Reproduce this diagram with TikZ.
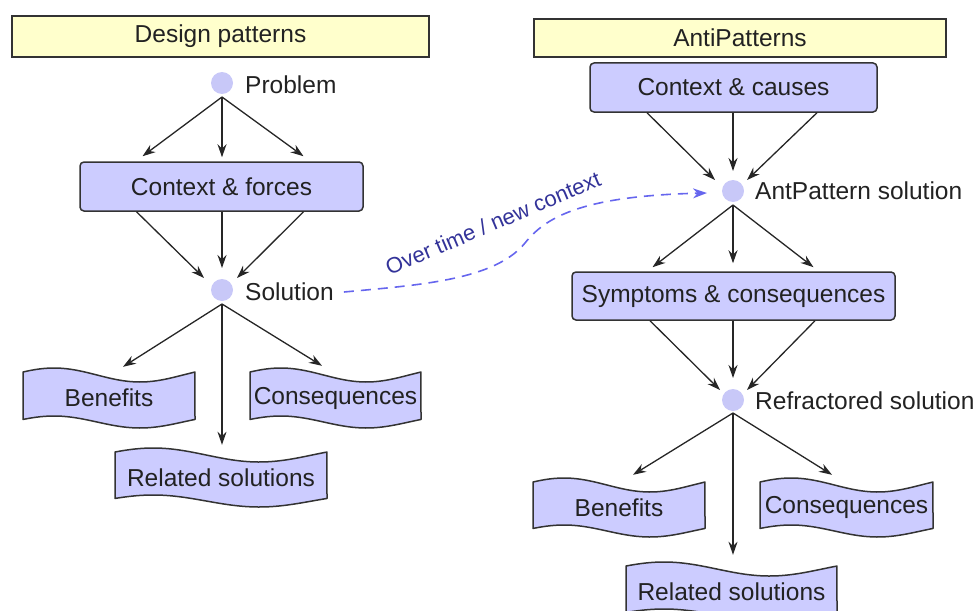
\documentclass[tikz,border=0pt]{standalone}
\usepackage{fontspec}
\setmainfont{Liberation Sans}
\usetikzlibrary{arrows.meta,calc}
\definecolor{boxfill}{HTML}{CCCCFF}
\definecolor{hdrfill}{HTML}{FFFFCC}
\definecolor{dotfill}{HTML}{C8C8F8}
\definecolor{linegray}{HTML}{333333}
\definecolor{txtgray}{HTML}{222222}
\definecolor{dashblue}{HTML}{6666EE}
\definecolor{lblblue}{HTML}{333399}
\tikzset{
  every node/.style={font=\fontsize{24.5}{28}\selectfont, text=txtgray},
  hdrbox/.style={draw=linegray, line width=1.5pt, fill=hdrfill, inner sep=0pt},
  rbox/.style={draw=linegray, line width=1.5pt, fill=boxfill, rounded corners=4pt, inner sep=0pt},
  dotnode/.style={circle, fill=dotfill, minimum size=22pt, inner sep=0pt},
  lbl/.style={anchor=west, inner sep=0pt},
  wavetext/.style={inner sep=0pt},
  wavestyle/.style={draw=linegray, line width=1.5pt, fill=boxfill, line join=round},
  arr/.style={-{Stealth[length=13pt,width=9pt]}, line width=1.3pt, draw=black!85},
  dasharr/.style={-{Stealth[length=14pt,width=10pt]}, line width=1.6pt, draw=dashblue, dash pattern=on 10pt off 7pt},
}
\newcommand\wavebox[6]{%
  \filldraw[wavestyle] plot[domain=0:1,samples=41,smooth] ({#2+\x*(#4-#2)},{#3+7-7*cos(360*(\x-0.18))})
    -- plot[domain=1:0,samples=41,smooth] ({#2+\x*(#4-#2)},{#5-6-6*cos(360*(\x-0.18))}) -- cycle;
  \node[wavetext, minimum width={#4-#2}, minimum height={#5-#3}] (#1) at ({(#2+#4)/2},{(#3+#5)/2}) {#6};
}
\begin{document}
\begin{tikzpicture}[x=1pt,y=-1pt]
\useasboundingbox (0,0) rectangle (979,610);
% headers
\node[hdrbox, minimum width=417pt, minimum height=41pt] (hL) at (220.5,36.5) {Design patterns};
\node[hdrbox, minimum width=412pt, minimum height=38pt] (hR) at (740,38) {AntiPatterns};
% left column
\node[dotnode] (p) at (222,83) {};
\node[lbl] (pl) at (245,85) {Problem};
\node[rbox, minimum width=283pt, minimum height=49pt] (cf) at (221.5,186.5) {Context \& forces};
\node[dotnode] (s) at (222,290) {};
\node[lbl] (sl) at (245,292) {Solution};
\wavebox{benL}{23}{368}{195}{428}{Benefits}
\wavebox{conL}{250}{368}{421}{428}{Consequences}
\wavebox{relL}{115}{448}{327}{507}{Related solutions}
% right column
\node[rbox, minimum width=287pt, minimum height=49pt] (cc) at (733.5,87.5) {Context \& causes};
\node[dotnode] (a) at (733,191) {};
\node[lbl] (al) at (755,191) {AntPattern solution};
\node[rbox, minimum width=323pt, minimum height=48pt] (sy) at (733.5,296) {Symptoms \& consequences};
\node[dotnode] (r) at (733,400) {};
\node[lbl] (rl) at (755,401) {Refractored solution};
\wavebox{benR}{533}{478}{705}{537}{Benefits}
\wavebox{conR}{760}{478}{933}{537}{Consequences}
\wavebox{relR}{626}{562}{837}{621}{Related solutions}
% left arrows
\draw[arr] ($(p)+(0,14)$) -- ($(cf.north)+(-79,-5)$);
\draw[arr] ($(p)+(0,14)$) -- ($(cf.north)+(0.5,-4)$);
\draw[arr] ($(p)+(0,14)$) -- ($(cf.north)+(82,-5)$);
\draw[arr] ($(cf.south)+(-85,0)$) -- ($(s)+(-18,-12)$);
\draw[arr] ($(cf.south)+(0.5,0)$) -- ($(s)+(0,-22)$);
\draw[arr] ($(cf.south)+(82,0)$) -- ($(s)+(15,-12)$);
\draw[arr] ($(s)+(0,14)$) -- ($(benL.north)+(14,-1)$);
\draw[arr] ($(s)+(0,14)$) -- ($(relL.north)+(1,-3)$);
\draw[arr] ($(s)+(0,14)$) -- ($(conL.north)+(-13.5,-2)$);
% right arrows
\draw[arr] ($(cc.south)+(-86.5,0)$) -- ($(a)+(-18,-11)$);
\draw[arr] ($(cc.south)+(-0.5,0)$) -- ($(a)+(0,-20)$);
\draw[arr] ($(cc.south)+(83.5,0)$) -- ($(a)+(14,-11)$);
\draw[arr] ($(a)+(0,14)$) -- ($(sy.north)+(-81,-4)$);
\draw[arr] ($(a)+(0,14)$) -- ($(sy.north)+(-0.5,-8)$);
\draw[arr] ($(a)+(0,14)$) -- ($(sy.north)+(80,-4)$);
\draw[arr] ($(sy.south)+(-83.5,0)$) -- ($(r)+(-13,-10)$);
\draw[arr] ($(sy.south)+(-0.5,0)$) -- ($(r)+(0,-22)$);
\draw[arr] ($(sy.south)+(81.5,0)$) -- ($(r)+(14,-10)$);
\draw[arr] ($(r)+(0,13)$) -- ($(benR.north)+(14,-3)$);
\draw[arr] ($(r)+(0,13)$) -- ($(relR.north)+(1.5,-7)$);
\draw[arr] ($(r)+(0,13)$) -- ($(conR.north)+(-14.5,-3)$);
% dashed transition
\draw[dasharr] ($(sl.east)+(10,0)$) .. controls (420,285) and (495,280) .. (525,243)
  .. controls (545,218) and (580,196) .. ($(a)+(-26,2)$);
\node[rotate=23, text=lblblue, font=\fontsize{22}{25}\selectfont] (ot) at (493,223) {Over time / new context};
\end{tikzpicture}
\end{document}
